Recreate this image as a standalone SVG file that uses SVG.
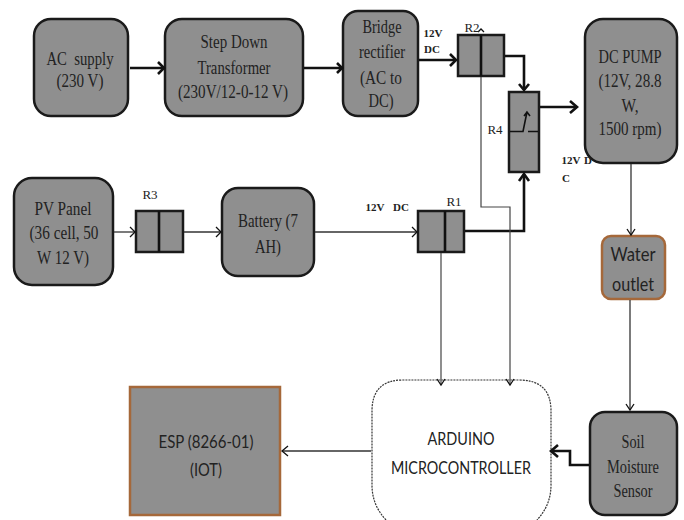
<svg xmlns="http://www.w3.org/2000/svg" width="684" height="520" viewBox="0 0 684 520">
<style>
text{font-family:"Liberation Serif",serif;fill:#222;text-anchor:middle;font-size:18px}
.n{fill:#8f8f8f;stroke:#1a1a1a;stroke-width:2.5}
.o{fill:#8f8f8f;stroke:#a5683a;stroke-width:2.5}
.s{font-family:"Lato","Liberation Sans",sans-serif;font-size:17px}
.w{font-family:"Lato","Liberation Sans",sans-serif;font-size:20px}
.sm{font-size:11px;font-weight:bold}
.lb{font-size:13px}
.thin{fill:none;stroke:#333;stroke-width:1.3}
.thick{fill:none;stroke:#111;stroke-width:2.6}
.dot{fill:none;stroke:#444;stroke-width:1.2}
.h{fill:none;stroke:#111;stroke-width:1.3}
.hb{fill:none;stroke:#111;stroke-width:2.6}
</style>
<rect width="684" height="520" fill="#fff"/>
<g id="ac-supply"><rect class="n" x="34" y="19" width="94" height="97" rx="17"/><text x="80" y="65" textLength="67" lengthAdjust="spacingAndGlyphs" xml:space="preserve">AC  supply</text><text x="80" y="87" textLength="47" lengthAdjust="spacingAndGlyphs">(230 V)</text></g>
<g id="transformer"><rect class="n" x="165" y="19" width="138" height="97" rx="17"/><text x="234" y="48" textLength="67" lengthAdjust="spacingAndGlyphs">Step Down</text><text x="234" y="74" textLength="73" lengthAdjust="spacingAndGlyphs">Transformer</text><text x="233" y="98" textLength="110" lengthAdjust="spacingAndGlyphs">(230V/12-0-12 V)</text></g>
<g id="rectifier"><rect class="n" x="343" y="11" width="75" height="105" rx="15"/><text x="382" y="33" textLength="39" lengthAdjust="spacingAndGlyphs">Bridge</text><text x="382" y="58" textLength="46" lengthAdjust="spacingAndGlyphs">rectifier</text><text x="381" y="84" textLength="42" lengthAdjust="spacingAndGlyphs">(AC to</text><text x="381" y="107" textLength="25" lengthAdjust="spacingAndGlyphs">DC)</text></g>
<g id="r2"><rect class="n" x="458" y="35" width="46" height="41"/><path class="hb" d="M481 35V76"/><path class="h" d="M478 32l3-3 3 3"/><text class="lb" x="472" y="32">R2</text></g>
<g id="r4"><rect class="n" x="509" y="92" width="30" height="80"/><path class="h" style="stroke-width:1.6" d="M510 131.500H523L527 112M524 116l3-4 3 4M528 131.500H538"/><text class="lb" x="495" y="134">R4</text></g>
<g id="dc-pump"><rect class="n" x="585" y="19" width="92" height="144" rx="18"/><text x="630" y="63" textLength="63" lengthAdjust="spacingAndGlyphs">DC PUMP</text><text x="630" y="87" textLength="63" lengthAdjust="spacingAndGlyphs">(12V, 28.8</text><text x="630" y="112" textLength="17" lengthAdjust="spacingAndGlyphs">W,</text><text x="630" y="135" textLength="63" lengthAdjust="spacingAndGlyphs">1500 rpm)</text></g>
<g id="pv-panel"><rect class="n" x="14" y="178" width="99" height="107" rx="18"/><text x="63" y="215" textLength="57" lengthAdjust="spacingAndGlyphs">PV Panel</text><text x="64" y="239" textLength="69" lengthAdjust="spacingAndGlyphs">(36 cell, 50</text><text x="63" y="264" textLength="52" lengthAdjust="spacingAndGlyphs">W 12 V)</text></g>
<g id="r3"><rect class="n" x="136" y="211" width="47" height="41"/><path class="hb" d="M159 211V252"/><text class="lb" x="150" y="199">R3</text></g>
<g id="battery"><rect class="n" x="222" y="188" width="92" height="88" rx="16"/><text x="268" y="227" textLength="60" lengthAdjust="spacingAndGlyphs">Battery (7</text><text x="268" y="253" textLength="26" lengthAdjust="spacingAndGlyphs">AH)</text></g>
<g id="r1"><rect class="n" x="418" y="211" width="46" height="41"/><path class="hb" d="M445 211V252"/><text class="lb" x="454" y="206">R1</text></g>
<g id="water-outlet"><rect class="o" x="602" y="236" width="63" height="63" rx="9"/><text class="w" x="633" y="261" textLength="45" lengthAdjust="spacingAndGlyphs">Water</text><text class="w" x="633" y="291" textLength="42" lengthAdjust="spacingAndGlyphs">outlet</text></g>
<g id="esp"><rect class="o" x="130" y="387" width="150" height="128"/><text class="s" x="206" y="448" textLength="95" lengthAdjust="spacingAndGlyphs">ESP (8266-01)</text><text class="s" x="206" y="476" textLength="32" lengthAdjust="spacingAndGlyphs">(IOT)</text></g>
<g id="arduino"><path fill="#fff" stroke="#333" stroke-width="1.2" stroke-dasharray="2 1" d="M386 520Q372 505 372 485V411Q372 380 403 380H519Q551 380 551 411V485Q551 505 537 520"/><text class="s" x="461" y="445" textLength="67" lengthAdjust="spacingAndGlyphs">ARDUINO</text><text class="s" x="461" y="474" textLength="140" lengthAdjust="spacingAndGlyphs">MICROCONTROLLER</text></g>
<g id="soil-sensor"><rect class="n" x="590" y="412" width="87" height="103" rx="15"/><text x="633" y="448" textLength="23" lengthAdjust="spacingAndGlyphs">Soil</text><text x="633" y="473" textLength="52" lengthAdjust="spacingAndGlyphs">Moisture</text><text x="633" y="497" textLength="39" lengthAdjust="spacingAndGlyphs">Sensor</text></g>
<g id="labels"><text class="sm" x="433" y="37">12V</text><text class="sm" x="432" y="53">DC</text><text class="sm" x="375" y="211">12V</text><text class="sm" x="401" y="211">DC</text><text class="sm" x="571" y="164">12V</text><text class="sm" x="588" y="164">D</text><text class="sm" x="566" y="182">C</text></g>
<g id="connectors">
<path class="thick" d="M130 68H163"/><path class="hb" d="M158 62l6 6-6 6"/>
<path class="thick" d="M304 68H342"/><path class="hb" d="M337 63l5 5-5 5"/>
<path class="thick" d="M419 60H456"/><path class="hb" d="M450 54l6 6-6 6"/>
<path class="thick" d="M505 56H524V90"/><path class="hb" d="M519 84l5 6 5-6"/>
<path class="thick" d="M540 107H577"/><path class="hb" d="M570 101l7 6-7 6"/>
<path class="thick" d="M465 231H524V174"/><path class="hb" d="M519 181l5-7 5 7"/>
<path class="thin" d="M114 232H135"/><path class="h" d="M130 227l5 5-5 5"/>
<path class="thin" d="M184 232H221"/><path class="h" d="M216 227l5 5-5 5"/>
<path class="thin" d="M315 232H417"/><path class="h" d="M412 227l5 5-5 5"/>
<path class="dot" d="M481 77V207H510V385"/><path class="h" d="M506 379l4 6 4-6"/>
<path class="dot" d="M441 253V385"/><path class="h" d="M437 379l4 6 4-6"/>
<path class="thin" d="M631 164V235"/><path class="h" d="M627 229l4 6 4-6"/>
<path class="thin" d="M630 300V410"/><path class="h" d="M626 404l4 6 4-6"/>
<path class="thin" d="M371 451H282"/><path class="h" d="M288 446l-6 5 6 5"/>
<path class="thick" d="M589 465H570V451H551"/><path class="hb" d="M558 445l-7 6 7 6"/>
</g>
</svg>
